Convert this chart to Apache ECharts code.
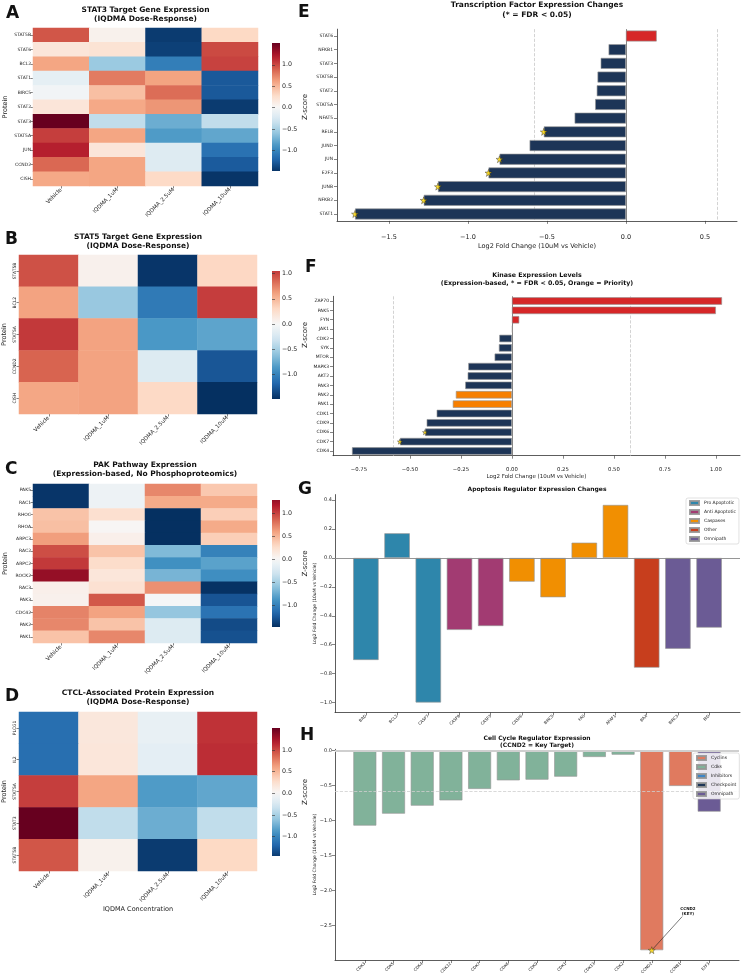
<!DOCTYPE html>
<html>
<head>
<meta charset="utf-8">
<script src="https://cdn.jsdelivr.net/npm/echarts@6/dist/echarts.min.js"></script>
<style>
  html, body { margin: 0; padding: 0; background: #fff; }
  #chart { width: 743px; height: 977px; }
</style>
</head>
<body>
<div id="chart"></div>
<script>
// ---------- data ----------
const conditions = ['Vehicle', 'IQDMA_1uM', 'IQDMA_2.5uM', 'IQDMA_10uM'];

// A: STAT3 targets (z-score per row)
const stat3Genes = ['STAT5B', 'STAT6', 'BCL2', 'STAT1', 'BIRC5', 'STAT2', 'STAT3', 'STAT5A', 'JUN', 'CCND2', 'CISH'];
const stat3Z = [
  [0.95, 0.07, -1.45, 0.31],
  [0.19, 0.22, -1.42, 1.00],
  [0.60, -0.56, -1.05, 1.03],
  [-0.14, 0.79, 0.61, -1.28],
  [-0.05, 0.46, 0.85, -1.28],
  [0.19, 0.58, 0.67, -1.45],
  [1.51, -0.38, -0.75, -0.38],
  [1.05, 0.60, -0.86, -0.79],
  [1.18, 0.19, -0.20, -1.13],
  [0.87, 0.60, -0.20, -1.27],
  [0.58, 0.60, 0.30, -1.48]
];

// B: STAT5 targets
const stat5Genes = ['STAT5B', 'BCL2', 'STAT5A', 'CCND2', 'CISH'];
const stat5Z = [
  [0.95, 0.07, -1.45, 0.31],
  [0.60, -0.56, -1.05, 1.03],
  [1.05, 0.60, -0.86, -0.79],
  [0.87, 0.60, -0.20, -1.27],
  [0.58, 0.60, 0.30, -1.48]
];

// C: PAK pathway
const pakGenes = ['PAK5', 'RAC1', 'RHOC', 'RHOA', 'ARPC3', 'RAC2', 'ARPC2', 'ROCK2', 'RAC3', 'PAK3', 'CDC42', 'PAK2', 'PAK1'];
const pakZ = [
  [-1.45, -0.08, 0.72, 0.40],
  [-1.45, -0.08, 0.56, 0.56],
  [0.43, 0.24, -1.48, 0.36],
  [0.45, 0.02, -1.48, 0.56],
  [0.62, 0.08, -1.48, 0.36],
  [0.96, 0.43, -0.66, -1.00],
  [1.05, 0.27, -0.91, -0.80],
  [1.30, 0.18, -0.69, -0.92],
  [0.08, 0.23, 0.68, -1.47],
  [0.07, 0.92, -0.02, -1.28],
  [0.74, 0.60, -0.58, -1.10],
  [0.72, 0.43, -0.20, -1.33],
  [0.43, 0.72, -0.20, -1.30]
];

// D: CTCL-associated
const ctclGenes = ['PLCG1', 'IL2', 'STAT5A', 'STAT3', 'STAT5B'];
const ctclZ = [
  [-1.15, 0.17, -0.12, 1.10],
  [-1.15, 0.18, -0.15, 1.12],
  [1.05, 0.60, -0.86, -0.79],
  [1.51, -0.38, -0.75, -0.38],
  [0.95, 0.07, -1.45, 0.31]
];

// E: transcription factors
const tfNames = ['STAT6', 'NFKB1', 'STAT3', 'STAT5B', 'STAT2', 'STAT5A', 'NFAT5', 'RELB', 'JUND', 'JUN', 'E2F3', 'JUNB', 'NFKB2', 'STAT1'];
const tfLog2FC = [0.195, -0.11, -0.16, -0.18, -0.185, -0.195, -0.325, -0.52, -0.61, -0.80, -0.87, -1.19, -1.28, -1.715];
const tfSig = ['RELB', 'JUN', 'E2F3', 'JUNB', 'NFKB2', 'STAT1'];

// F: kinases
const kinNames = ['ZAP70', 'PAK5', 'FYN', 'JAK1', 'CDK2', 'SYK', 'MTOR', 'MAPK3', 'AKT2', 'PAK3', 'PAK2', 'PAK1', 'CDK1', 'CDK9', 'CDK6', 'CDK7', 'CDK4'];
const kinLog2FC = [1.03, 1.00, 0.036, 0.004, -0.062, -0.064, -0.085, -0.214, -0.217, -0.229, -0.275, -0.29, -0.369, -0.418, -0.426, -0.549, -0.784];
const kinSig = ['CDK6', 'CDK7'];
const kinPriority = ['PAK2', 'PAK1'];

// G: apoptosis regulators
const apoNames = ['BAD', 'BCL2', 'CASP7', 'CASP8', 'CASP3', 'CASP6', 'BIRC5', 'FAS', 'APAF1', 'BAX', 'BIRC3', 'BID'];
const apoLog2FC = [-0.706, 0.171, -1.0, -0.498, -0.471, -0.164, -0.272, 0.106, 0.367, -0.759, -0.628, -0.482];
const apoGroup = ['Pro Apoptotic', 'Pro Apoptotic', 'Pro Apoptotic', 'Anti Apoptotic', 'Anti Apoptotic',
  'Caspases', 'Caspases', 'Caspases', 'Caspases', 'Other', 'Omnipath', 'Omnipath'];
const apoGroups = ['Pro Apoptotic', 'Anti Apoptotic', 'Caspases', 'Other', 'Omnipath'];

// H: cell cycle regulators
const ccNames = ['CDK3', 'CDK5', 'CDK4', 'CDK12', 'CDK7', 'CDK6', 'CDK9', 'CDK1', 'CDK13', 'CDK2', 'CCND2', 'CCNB1', 'E2F3'];
const ccLog2FC = [-1.07, -0.90, -0.786, -0.71, -0.547, -0.424, -0.414, -0.371, -0.09, -0.057, -2.85, -0.504, -0.871];
const ccGroup = ['Cdks', 'Cdks', 'Cdks', 'Cdks', 'Cdks', 'Cdks', 'Cdks', 'Cdks', 'Cdks', 'Cdks', 'Cyclins', 'Cyclins', 'Omnipath'];
const ccGroups = ['Cyclins', 'Cdks', 'Inhibitors', 'Checkpoint', 'Omnipath'];
const ccKey = 'CCND2';

const fcThreshold = Math.log2(1.5);

// ---------- styles ----------
const FONT = 'DejaVu Sans';
const rdbu = ['#053061', '#2166ac', '#4393c3', '#92c5de', '#d1e5f0', '#f7f7f7',
  '#fddbc7', '#f4a582', '#d6604d', '#b2182b', '#67001f'];
const navy = '#1d3557', red = '#d62728', orange = '#f77f00', gold = '#ffd700';
const edge = 'rgba(150,150,150,0.9)';
const groupColors = {
  'Pro Apoptotic': '#2e86ab', 'Anti Apoptotic': '#a23b72', 'Caspases': '#f18f01',
  'Other': '#c73e1d', 'Omnipath': '#6b5b95',
  'Cyclins': '#e07a5f', 'Cdks': '#81b29a', 'Inhibitors': '#3d85c6', 'Checkpoint': '#1d3557'
};
const STAR = 'path://M50,2 L61.8,36.2 L97.6,36.2 L68.6,57.6 L79.4,92 L50,71 L20.6,92 L31.4,57.6 L2.4,36.2 L38.2,36.2 Z';
const axisCol = '#333';

const fmt1 = v => (v < 0 ? '\u2212' : '') + Math.abs(v).toFixed(1);
const fmt2 = v => (v < 0 ? '\u2212' : '') + Math.abs(v).toFixed(2);

// sample the colour list at t in [0, 1]
function rampColor(t, cols) {
  t = Math.min(1, Math.max(0, t));
  const pos = t * (cols.length - 1);
  const i = Math.min(cols.length - 2, Math.floor(pos));
  const f = pos - i;
  const a = parseInt(cols[i].slice(1), 16), b = parseInt(cols[i + 1].slice(1), 16);
  const ch = s => Math.round(((a >> s) & 255) * (1 - f) + ((b >> s) & 255) * f);
  return 'rgb(' + ch(16) + ',' + ch(8) + ',' + ch(0) + ')';
}

const grid = [], xAxis = [], yAxis = [], series = [], visualMap = [], graphic = [], legend = [];

function addText(x, y, text, size, weight, align, lh) {
  graphic.push({
    type: 'text', x: x, y: y, silent: true,
    style: {
      text: text, fontSize: size, fontWeight: weight, fontFamily: FONT, fill: '#111',
      align: align || 'left', verticalAlign: 'top', lineHeight: lh || size * 1.2
    }
  });
}

function newGrid(left, top, width, height, extra) {
  grid.push(Object.assign({ left, top, width, height, containLabel: false, outerBoundsMode: 'none' }, extra || {}));
  return grid.length - 1;
}

// ---------- heatmaps (colour map centred on 0) ----------
function addHeatmap(p) {
  const g = newGrid(p.box[0], p.box[1], p.box[2], p.box[3]);
  xAxis.push({
    type: 'category', gridIndex: g, data: conditions,
    axisLine: { show: false },
    axisTick: { show: true, alignWithLabel: true, length: 2.5, lineStyle: { color: axisCol, width: 0.6 } },
    axisLabel: { interval: 0, rotate: 45, fontSize: 5.5, color: '#222', margin: 3 },
    splitLine: { show: false },
    name: p.xName || '', nameLocation: 'middle', nameGap: p.xNameGap || 0,
    nameTextStyle: { fontSize: 6.5, color: '#222' }
  });
  yAxis.push({
    type: 'category', gridIndex: g, data: p.rows, inverse: true,
    axisLine: { show: false },
    axisTick: { show: true, alignWithLabel: true, length: 2.5, lineStyle: { color: axisCol, width: 0.6 } },
    axisLabel: { interval: 0, fontSize: 4.5, color: '#222', margin: 2, rotate: p.yRotate || 0 },
    splitLine: { show: false },
    name: 'Protein', nameLocation: 'middle', nameGap: p.nameGap,
    nameTextStyle: { fontSize: 6.5, color: '#222' }
  });
  const flat = [];
  p.z.forEach((row, r) => row.forEach((v, c) => flat.push([c, r, v])));
  const vals = flat.map(d => d[2]);
  const lo = Math.min(...vals), hi = Math.max(...vals);
  const R = Math.max(Math.abs(lo), Math.abs(hi));
  series.push({
    type: 'heatmap', xAxisIndex: g, yAxisIndex: g, data: flat,
    itemStyle: { borderWidth: 0 }, emphasis: { disabled: true }, silent: true
  });
  visualMap.push({
    type: 'continuous', show: false, min: -R, max: R, dimension: 2,
    seriesIndex: series.length - 1, inRange: { color: rdbu }
  });
  // colorbar shows only the data range of the centred map
  const stops = [];
  for (let k = 0; k <= 24; k++) {
    const v = lo + (hi - lo) * k / 24;
    stops.push({ offset: k / 24, color: rampColor((v + R) / (2 * R), rdbu) });
  }
  const cb = newGrid(272, p.bar[0], 8, p.bar[1] - p.bar[0], {
    show: true, borderWidth: 0,
    backgroundColor: new echarts.graphic.LinearGradient(0, 1, 0, 0, stops)
  });
  const ticks = [-1, -0.5, 0, 0.5, 1].filter(t => t >= lo && t <= hi);
  xAxis.push({ type: 'value', gridIndex: cb, show: false });
  yAxis.push({
    type: 'value', gridIndex: cb, min: lo, max: hi, position: 'right',
    axisLine: { show: false },
    axisTick: { show: true, length: 3, customValues: ticks, lineStyle: { color: axisCol, width: 0.6 } },
    axisLabel: { fontSize: 6.3, color: '#222', margin: 2, customValues: ticks, formatter: fmt1 },
    splitLine: { show: false },
    name: 'Z-score', nameLocation: 'middle', nameGap: 19,
    nameTextStyle: { fontSize: 7, color: '#222' }
  });
  addText(p.letter[0], p.letter[1], p.letterText, 17, 'bold');
  addText(p.title[0], p.title[1], p.titleText, 7.5, 'bold', 'center', 9);
}

addHeatmap({ box: [33, 28, 225, 158], bar: [43, 171], rows: stat3Genes, z: stat3Z, nameGap: 24,
  letter: [6, 3], letterText: 'A', title: [145.5, 5.5], titleText: 'STAT3 Target Gene Expression\n(IQDMA Dose-Response)' });
addHeatmap({ box: [19, 255, 238, 159], bar: [271, 399], rows: stat5Genes, z: stat5Z, nameGap: 11, yRotate: 90,
  letter: [5, 229], letterText: 'B', title: [138, 233], titleText: 'STAT5 Target Gene Expression\n(IQDMA Dose-Response)' });
addHeatmap({ box: [33, 484, 224, 159], bar: [500, 627], rows: pakGenes, z: pakZ, nameGap: 24,
  letter: [5, 459], letterText: 'C', title: [145, 461], titleText: 'PAK Pathway Expression\n(Expression-based, No Phosphoproteomics)' });
addHeatmap({ box: [19, 712, 238, 159], bar: [728, 856], rows: ctclGenes, z: ctclZ, nameGap: 11, yRotate: 90,
  xName: 'IQDMA Concentration', xNameGap: 22,
  letter: [5, 686], letterText: 'D', title: [138, 689], titleText: 'CTCL-Associated Protein Expression\n(IQDMA Dose-Response)' });

// ---------- horizontal bar panels ----------
function hbarPanel(p) {
  const g = newGrid(p.box[0], p.box[1], p.box[2], p.box[3]);
  xAxis.push({
    type: 'value', gridIndex: g, min: p.xmin, max: p.xmax,
    axisLine: { show: true, onZero: false, lineStyle: { color: axisCol, width: 0.8 } },
    axisTick: { show: true, length: 3, customValues: p.xticks, lineStyle: { color: axisCol, width: 0.6 } },
    axisLabel: { customValues: p.xticks, formatter: p.fmt, fontSize: p.tickFont, color: '#222', margin: p.labelMargin },
    splitLine: { show: false },
    name: 'Log2 Fold Change (10uM vs Vehicle)', nameLocation: 'middle', nameGap: p.nameGap,
    nameTextStyle: { fontSize: p.nameFont, color: '#222' }
  });
  yAxis.push({
    type: 'category', gridIndex: g, data: p.names, inverse: true,
    axisLine: { show: true, onZero: false, lineStyle: { color: axisCol, width: 0.8 } },
    axisTick: { show: true, alignWithLabel: true, length: 3, lineStyle: { color: axisCol, width: 0.6 } },
    axisLabel: { interval: 0, fontSize: 4.5, color: '#222', margin: 4 },
    splitLine: { show: false }
  });
  series.push({
    type: 'bar', xAxisIndex: g, yAxisIndex: g, barWidth: p.barWidth, z: 2, silent: true,
    itemStyle: { borderColor: edge, borderWidth: 0.7 },
    data: p.values.map((v, i) => ({ value: v, itemStyle: { color: p.colorOf(p.names[i], v) } })),
    markLine: {
      silent: true, z: 1, symbol: 'none', label: { show: false },
      data: [
        { xAxis: 0, lineStyle: { color: '#777', width: 0.9, type: 'solid' } },
        { xAxis: -fcThreshold, lineStyle: { color: '#c8c8c8', width: 0.8, type: 'dashed' } },
        { xAxis: fcThreshold, lineStyle: { color: '#c8c8c8', width: 0.8, type: 'dashed' } }
      ]
    }
  });
  series.push({
    type: 'scatter', xAxisIndex: g, yAxisIndex: g, z: 4, silent: true,
    symbol: STAR, symbolSize: p.star,
    itemStyle: { color: gold, borderColor: '#222', borderWidth: 0.5 },
    data: p.names.map((n, i) => (p.sig.includes(n) ? [p.values[i], n] : null)).filter(Boolean)
  });
}

hbarPanel({
  box: [337, 29.15, 400, 191.7], xmin: -1.829, xmax: 0.703, xticks: [-1.5, -1, -0.5, 0, 0.5], fmt: fmt1,
  tickFont: 6.5, nameFont: 6.5, labelMargin: 13, nameGap: 22, barWidth: 11, star: 7,
  names: tfNames, values: tfLog2FC, sig: tfSig,
  colorOf: (n, v) => (v > 0 ? red : navy)
});
hbarPanel({
  box: [333, 296.3, 407, 159.4], xmin: -0.877, xmax: 1.118,
  xticks: [-0.75, -0.5, -0.25, 0, 0.25, 0.5, 0.75, 1.0], fmt: fmt2,
  tickFont: 5.3, nameFont: 5.5, labelMargin: 11, nameGap: 18, barWidth: 7.5, star: 5,
  names: kinNames, values: kinLog2FC, sig: kinSig,
  colorOf: (n, v) => (v > 0 ? red : (kinPriority.includes(n) ? orange : navy))
});
addText(298, 2, 'E', 17, 'bold');
addText(537, 0.5, 'Transcription Factor Expression Changes\n(* = FDR < 0.05)', 7.5, 'bold', 'center', 10);
addText(305, 257, 'F', 17, 'bold');
addText(537, 271, 'Kinase Expression Levels\n(Expression-based, * = FDR < 0.05, Orange = Priority)', 6.3, 'bold', 'center', 8);

// ---------- vertical bar panels ----------
function vbarPanel(p) {
  const g = newGrid(p.box[0], p.box[1], p.box[2], p.box[3]);
  const idx = p.names.map((_, i) => i);
  xAxis.push({
    type: 'value', gridIndex: g, min: p.xmin, max: p.xmax,
    axisLine: { show: true, onZero: false, lineStyle: { color: axisCol, width: 0.8 } },
    axisTick: { show: true, length: 3, customValues: idx, lineStyle: { color: axisCol, width: 0.6 } },
    axisLabel: { customValues: idx, formatter: v => p.names[Math.round(v)] || '', rotate: 45, fontSize: 4, color: '#222', margin: 3 },
    splitLine: { show: false }
  });
  yAxis.push({
    type: 'value', gridIndex: g, min: p.ymin, max: p.ymax,
    axisLine: { show: true, onZero: false, lineStyle: { color: axisCol, width: 0.8 } },
    axisTick: { show: true, length: 3, customValues: p.yticks, lineStyle: { color: axisCol, width: 0.6 } },
    axisLabel: { customValues: p.yticks, formatter: fmt1, fontSize: 5, color: '#222', margin: 3 },
    splitLine: { show: false },
    name: 'Log2 Fold Change (10uM vs Vehicle)', nameLocation: 'middle', nameGap: 18, nameMoveOverlap: false,
    nameTextStyle: { fontSize: 4.5, color: '#222' }
  });
  p.groups.forEach((gr, k) => {
    const s = {
      type: 'bar', name: gr, xAxisIndex: g, yAxisIndex: g, barWidth: p.barWidth, barGap: '-100%', z: 2, silent: true,
      itemStyle: { color: groupColors[gr], borderColor: edge, borderWidth: 0.7 },
      data: p.values.map((v, i) => (p.group[i] === gr ? [i, v] : null)).filter(Boolean)
    };
    if (k === 0) s.markLine = { silent: true, z: 3, symbol: 'none', label: { show: false }, data: p.lines };
    series.push(s);
  });
  legend.push({
    data: p.groups, orient: 'vertical', left: p.legend[0], top: p.legend[1],
    itemWidth: 9, itemHeight: 4, itemGap: 3, padding: [2, 3, 2, 3], icon: 'rect',
    textStyle: { fontSize: 4.5, color: '#222', fontFamily: FONT },
    backgroundColor: 'rgba(255,255,255,0.85)', borderColor: '#ccc', borderWidth: 0.6, borderRadius: 2,
    selectedMode: false
  });
  return g;
}

vbarPanel({
  box: [335, 494.6, 405, 217.8], xmin: -0.99, xmax: 11.99, ymin: -1.0685, ymax: 0.4385,
  yticks: [-1.0, -0.8, -0.6, -0.4, -0.2, 0, 0.2, 0.4], barWidth: 25.5,
  names: apoNames, values: apoLog2FC, group: apoGroup, groups: apoGroups, legend: [686, 498],
  lines: [{ yAxis: 0, lineStyle: { color: '#8a8a8a', width: 0.9, type: 'solid' } }]
});
addText(298, 479, 'G', 17, 'bold');
addText(537, 486, 'Apoptosis Regulator Expression Changes', 6, 'bold', 'center', 7);

const hGrid = vbarPanel({
  box: [335, 749.3, 404, 210.7], xmin: -1.04, xmax: 13.04, ymin: -2.99, ymax: 0.02,
  yticks: [-2.5, -2.0, -1.5, -1.0, -0.5, 0], barWidth: 23,
  names: ccNames, values: ccLog2FC, group: ccGroup, groups: ccGroups, legend: [693, 753],
  lines: [
    { yAxis: 0, lineStyle: { color: '#cfcfcf', width: 2, type: 'solid' } },
    { yAxis: -fcThreshold, lineStyle: { color: '#cfcfcf', width: 0.8, type: 'dashed' } }
  ]
});
addText(300, 725, 'H', 17, 'bold');
addText(537, 735, 'Cell Cycle Regulator Expression\n(CCND2 = Key Target)', 6, 'bold', 'center', 6.8);

// key target annotation
const keyIdx = ccNames.indexOf(ccKey);
series.push({
  type: 'scatter', xAxisIndex: hGrid, yAxisIndex: hGrid, z: 6, silent: true,
  symbol: STAR, symbolSize: 7,
  itemStyle: { color: gold, borderColor: '#222', borderWidth: 0.5 },
  data: [[keyIdx, ccLog2FC[keyIdx]]],
  markLine: {
    silent: true, z: 5, symbol: 'none', label: { show: false },
    lineStyle: { color: '#222', width: 0.6, type: 'solid' },
    data: [[{ coord: [keyIdx, ccLog2FC[keyIdx]] }, { coord: [11.06, -2.37] }]]
  },
  markPoint: {
    silent: true, symbol: 'circle', symbolSize: 0,
    data: [{
      coord: [11.26, -2.29],
      label: { show: true, position: 'inside', formatter: ccKey + '\n(KEY)', fontSize: 4, fontWeight: 'bold', color: '#111', lineHeight: 5, fontFamily: FONT }
    }]
  }
});

const chart = echarts.init(document.getElementById('chart'), null, { renderer: 'canvas', width: 743, height: 977 });
chart.setOption({
  animation: false,
  backgroundColor: '#ffffff',
  textStyle: { fontFamily: FONT },
  grid: grid,
  xAxis: xAxis,
  yAxis: yAxis,
  visualMap: visualMap,
  legend: legend,
  series: series,
  graphic: graphic
});
</script>
</body>
</html>
